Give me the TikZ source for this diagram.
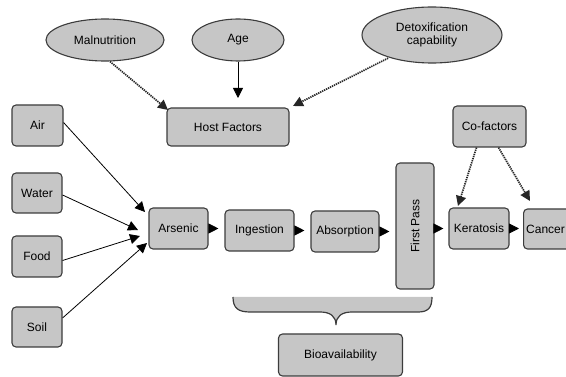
\documentclass[tikz,border=0pt]{standalone}
\usepackage{fontspec}
\setmainfont{Liberation Sans}
\usetikzlibrary{shapes.geometric,arrows.meta}
\definecolor{boxfill}{HTML}{C6C6C6}
\definecolor{boxline}{HTML}{3C3C3C}
\tikzset{
  base/.style={draw=boxline, fill=boxfill, line width=1.1pt, inner sep=0pt, font=\fontsize{12}{13}\selectfont, text=black},
  rbox/.style={base, rectangle, rounded corners=4pt},
  oval/.style={base, ellipse, align=center},
  arr/.style={-{Triangle[length=10pt,width=10pt]}, line width=0.8pt, draw=black},
  dotarr/.style={arr, dash pattern=on 1.3pt off 0.9pt, line width=1.7pt, draw=black!85},
  lbl/.style={font=\fontsize{12}{13}\selectfont, text=black, inner sep=0pt},
}
\begin{document}
\begin{tikzpicture}[x=1pt,y=-1pt]
\useasboundingbox (0,0) rectangle (566,377);
\clip (0,0) rectangle (566,377);
% ellipses
\node[oval, minimum width=118pt, minimum height=42pt] (mal) at (105,40) {Malnutrition};
\node[oval, minimum width=92pt, minimum height=42pt] (age) at (238,40) {Age};
\node[oval, minimum width=140pt, minimum height=56pt] (det) at (432,35) {Detoxification\\capability};
% boxes
\node[rbox, minimum width=122pt, minimum height=38pt] (host) at (228,127) {Host Factors};
\node[rbox, minimum width=73pt, minimum height=41pt] (cof) at (489.5,126.5) {Co-factors};
\node[rbox, minimum width=51pt, minimum height=41pt] (air) at (37.5,125.5) {Air};
\node[rbox, minimum width=50pt, minimum height=40pt] (water) at (37,193) {Water};
\node[rbox, minimum width=50pt, minimum height=41pt] (food) at (37,256.5) {Food};
\node[rbox, minimum width=50pt, minimum height=40pt] (soil) at (37,327) {Soil};
\node[rbox, minimum width=59pt, minimum height=41pt] (ars) at (178.5,228.5) {Arsenic};
\node[rbox, minimum width=69pt, minimum height=41pt] (ing) at (259.5,230.5) {Ingestion};
\node[rbox, minimum width=68pt, minimum height=41pt] (abs) at (345,231.5) {Absorption};
\node[rbox, minimum width=38pt, minimum height=126pt] (fp) at (415,226) {};
\node[lbl, rotate=90] (fptext) at (fp.center) {First Pass};
\node[rbox, minimum width=60pt, minimum height=41pt] (ker) at (479,228.5) {Keratosis};
\node[rbox, minimum width=62pt, minimum height=40pt, anchor=west] (can) at (523,229) {};
\node[lbl, anchor=west] (cantext) at (526,229) {Cancer};
\node[rbox, minimum width=124pt, minimum height=42pt] (bio) at (340.5,355) {Bioavailability};
% brace
\fill[boxfill] (233,297) .. controls (233,308) and (238,312) .. (250,312) -- (320,312)
  .. controls (330,312) and (336,316) .. (336,325)
  .. controls (336,316) and (342,312) .. (352,312) -- (418,312)
  .. controls (428,312) and (432,308) .. (432,297) -- cycle;
\draw[boxline, line width=1.2pt] (233,297) .. controls (233,308) and (238,312) .. (250,312) -- (320,312)
  .. controls (330,312) and (336,316) .. (336,325)
  .. controls (336,316) and (342,312) .. (352,312) -- (418,312)
  .. controls (428,312) and (432,308) .. (432,297);
% host factor arrows
\coordinate (hostm) at (168,110);
\coordinate (hosta) at (238,98);
\coordinate (hostd) at (293,106);
\draw[dotarr] (mal.south) ++(5,0) -- (hostm);
\draw[arr] (age.south) -- (hosta);
\draw[dotarr] (det.south west) ++(6,3) -- (hostd);
% sources to arsenic
\coordinate (a1) at (145,212);
\coordinate (a2) at (138,230);
\coordinate (a3) at (140,236);
\coordinate (a4) at (147,243);
\draw[arr] (air.east) ++(0,-3) -- (a1);
\draw[arr] (water.east) ++(0,2) -- (a2);
\draw[arr] (food.east) ++(0,4) -- (a3);
\draw[arr] (soil.east) ++(0,-9) -- (a4);
% chain
\draw[arr, shorten >=6pt] (ars.east) -- (ars.east -| ing.west);
\draw[arr, shorten >=6pt] (ing.east) -- (ing.east -| abs.west);
\draw[arr, shorten >=6pt] (abs.east) -- (abs.east -| fp.west);
\draw[arr, shorten >=5pt] (fp.east |- ker.west) -- (ker.west);
\draw[arr, shorten >=4pt] (ker.east) -- (ker.east -| can.west);
% cofactors
\coordinate (k1) at (458,206);
\coordinate (c1) at (530,201);
\draw[dotarr] (cof.south) ++(-13,0) -- (k1);
\draw[dotarr] (cof.south) ++(9,0) -- (c1);
\end{tikzpicture}
\end{document}
